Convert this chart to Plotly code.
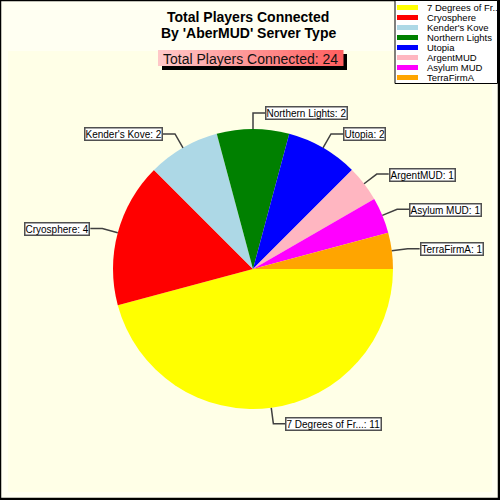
import math
import plotly.graph_objects as go

# ---- data ----
labels = ["7 Degrees of Fr...", "Cryosphere", "Kender's Kove", "Northern Lights",
          "Utopia", "ArgentMUD", "Asylum MUD", "TerraFirmA"]
legend_labels = ["7 Degrees of Fr..", "Cryosphere", "Kender's Kove", "Northern Lights",
                 "Utopia", "ArgentMUD", "Asylum MUD", "TerraFirmA"]
values = [11, 4, 2, 2, 2, 1, 1, 1]
colors = ["#FFFF00", "#FF0000", "#ADD8E6", "#008000", "#0000FF", "#FFB6C1", "#FF00FF", "#FFA500"]
title_lines = ["Total Players Connected", "By 'AberMUD' Server Type"]
total_text = "Total Players Connected: %d" % sum(values)

# ---- layout geometry (pixels) ----
W = H = 500
cx, cy, R = 253, 269, 140
FONT = "Liberation Sans, Arial, sans-serif"


def px(x):
    return x / W


def py(y):
    return 1 - y / H


fig = go.Figure()
fig.add_trace(go.Pie(
    labels=labels, values=values, sort=False, direction="clockwise", rotation=90,
    marker=dict(colors=colors, line=dict(width=0)),
    textinfo="none", hoverinfo="label+value", showlegend=False,
    domain=dict(x=[px(cx - R), px(cx + R)], y=[py(cy + R), py(cy - R)]),
))

shapes = []
annotations = []

# background
shapes.append(dict(type="rect", xref="paper", yref="paper", x0=px(8), x1=px(492), y0=py(492), y1=py(51),
                   fillcolor="#FFFFE7", line=dict(width=0), layer="below"))
# outer frame
shapes.append(dict(type="rect", xref="paper", yref="paper", x0=px(0.5), x1=px(498.5), y0=py(498.5), y1=py(0.5),
                   line=dict(color="black", width=1.5), layer="above"))
shapes.append(dict(type="line", xref="paper", yref="paper", x0=px(499), x1=px(499), y0=py(0), y1=py(500),
                   line=dict(color="black", width=2)))
shapes.append(dict(type="line", xref="paper", yref="paper", x0=px(0), x1=px(500), y0=py(499), y1=py(499),
                   line=dict(color="black", width=2)))

# titles
annotations.append(dict(text="<b>%s</b>" % title_lines[0], x=px(248), y=py(17), xref="paper", yref="paper",
                        showarrow=False, font=dict(family=FONT, size=14, color="black"),
                        xanchor="center", yanchor="middle"))
annotations.append(dict(text="<b>%s</b>" % title_lines[1], x=px(248), y=py(33), xref="paper", yref="paper",
                        showarrow=False, font=dict(family=FONT, size=14, color="black"),
                        xanchor="center", yanchor="middle"))

# subtitle box with shadow and gradient
bx0, bx1, by0, by1 = 158, 343, 50, 66
shapes.append(dict(type="rect", xref="paper", yref="paper", x0=px(bx0 + 4), x1=px(bx1 + 4),
                   y0=py(by1 + 4), y1=py(by0 + 4), fillcolor="black", line=dict(width=0)))
nstrip = 37
for k in range(nstrip):
    t = k / (nstrip - 1)
    g = int(round(0xC8 + (0x60 - 0xC8) * t))
    col = "rgb(255,%d,%d)" % (g, g)
    sx0 = bx0 + (bx1 - bx0) * k / nstrip
    sx1 = bx0 + (bx1 - bx0) * (k + 1) / nstrip
    shapes.append(dict(type="rect", xref="paper", yref="paper", x0=px(sx0), x1=px(sx1 + 0.5),
                       y0=py(by1), y1=py(by0), fillcolor=col, line=dict(width=0)))
annotations.append(dict(text=total_text, x=px((bx0 + bx1) / 2), y=py((by0 + by1) / 2 + 0.5),
                        xref="paper", yref="paper", showarrow=False,
                        font=dict(family=FONT, size=14, color="#111111"),
                        xanchor="center", yanchor="middle"))

# callouts
total = sum(values)
cum = 0
for lab, v in zip(labels, values):
    mid = math.radians((cum + v / 2) / total * 360)
    cum += v
    c, s = math.cos(mid), math.sin(mid)
    x0, y0 = cx + R * c, cy + R * s
    x1, y1 = cx + (R + 16) * c, cy + (R + 16) * s
    sgn = 1 if c > -1e-6 else -1
    x2 = x1 + sgn * 12
    shapes.append(dict(type="path", xref="paper", yref="paper",
                       path="M %f,%f L %f,%f L %f,%f" % (px(x0), py(y0), px(x1), py(y1), px(x2), py(y1)),
                       line=dict(color="#404040", width=1.5)))
    annotations.append(dict(text="%s: %d" % (lab, v), x=px(x2), y=py(y1 + 0.5), xref="paper", yref="paper",
                            showarrow=False, font=dict(family=FONT, size=10, color="black"),
                            xanchor="left" if sgn > 0 else "right", yanchor="middle",
                            bgcolor="white", bordercolor="#505050", borderwidth=1.5, borderpad=0))

# legend (custom compact)
shapes.append(dict(type="rect", xref="paper", yref="paper", x0=px(395), x1=px(497.5), y0=py(83.5), y1=py(0.5),
                   fillcolor="white", line=dict(color="black", width=1)))
for i, (lab, col) in enumerate(zip(legend_labels, colors)):
    yc = 7.5 + 10 * i
    shapes.append(dict(type="rect", xref="paper", yref="paper", x0=px(397), x1=px(418),
                       y0=py(yc + 2.5), y1=py(yc - 2.5), fillcolor=col, line=dict(width=0)))
    annotations.append(dict(text=lab, x=px(425), y=py(yc), xref="paper", yref="paper", showarrow=False,
                            font=dict(family=FONT, size=9.5, color="black"),
                            xanchor="left", yanchor="middle"))

fig.update_layout(
    width=W, height=H, margin=dict(l=0, r=0, t=0, b=0),
    paper_bgcolor="#FFFFF2", plot_bgcolor="#FFFFF2",
    shapes=shapes, annotations=annotations, showlegend=False,
)
fig.write_html("out.html", config={"displayModeBar": False},
               post_script="document.body.style.margin='0';document.body.style.padding='0';"
                           "document.body.style.overflow='hidden';")
